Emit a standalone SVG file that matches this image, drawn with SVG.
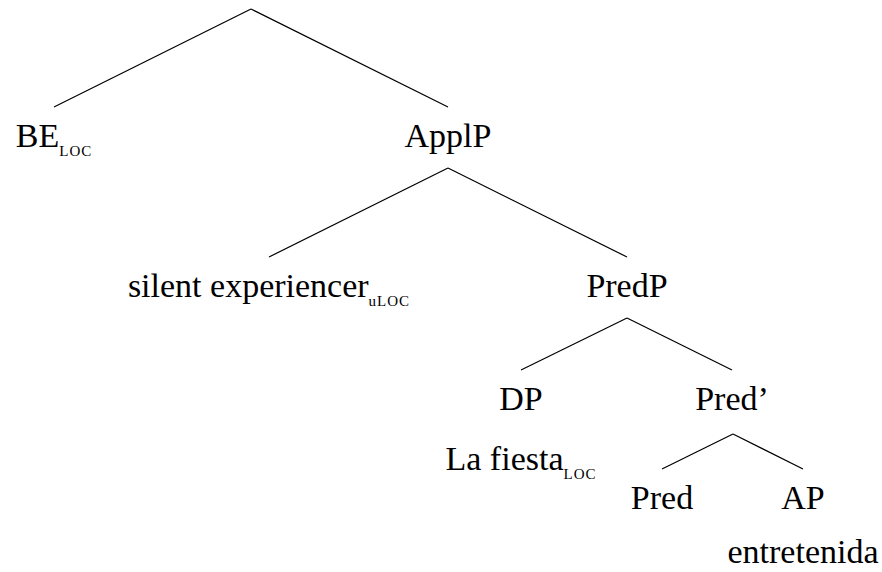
<svg xmlns="http://www.w3.org/2000/svg" width="882" height="572" viewBox="0 0 882 572">
<style>
.lbl{font-family:"Liberation Serif",serif;font-size:34px;fill:#000;text-anchor:middle}
.sub{font-family:"Liberation Serif",serif;font-size:15px;letter-spacing:1px}
.edge{stroke:#000;stroke-width:1.2;fill:none}
</style>
<rect width="882" height="572" fill="#fff"/>
<g id="connectors">
<line class="edge" x1="251" y1="9" x2="54" y2="107"/>
<line class="edge" x1="251" y1="9" x2="448" y2="107"/>
<line class="edge" x1="448" y1="168" x2="269" y2="257"/>
<line class="edge" x1="448" y1="168" x2="627" y2="257"/>
<line class="edge" x1="627" y1="318" x2="521" y2="370"/>
<line class="edge" x1="627" y1="318" x2="732" y2="370"/>
<line class="edge" x1="733" y1="434" x2="662" y2="469"/>
<line class="edge" x1="733" y1="434" x2="803" y2="469"/>
</g>
<g id="node-be"><text class="lbl" x="54" y="147">BE<tspan class="sub" dy="9">LOC</tspan></text></g>
<g id="node-applp"><text class="lbl" x="448" y="147">ApplP</text></g>
<g id="node-experiencer"><text class="lbl" x="269" y="297">silent experiencer<tspan class="sub" dy="9">uLOC</tspan></text></g>
<g id="node-predp"><text class="lbl" x="627" y="297">PredP</text></g>
<g id="node-dp"><text class="lbl" x="521" y="410">DP</text><text class="lbl" x="521" y="470">La fiesta<tspan class="sub" dy="9">LOC</tspan></text></g>
<g id="node-predbar"><text class="lbl" x="732" y="410">Pred’</text></g>
<g id="node-pred"><text class="lbl" x="662" y="509">Pred</text></g>
<g id="node-ap"><text class="lbl" x="803" y="509">AP</text><text class="lbl" x="803" y="563">entretenida</text></g>
</svg>
